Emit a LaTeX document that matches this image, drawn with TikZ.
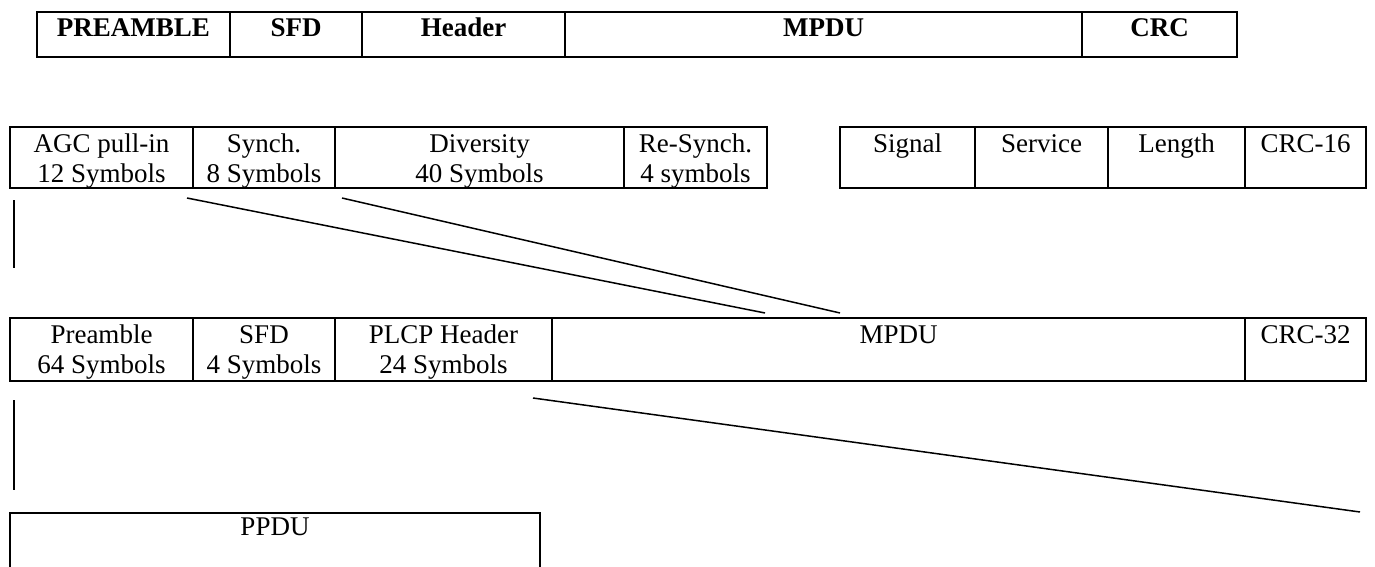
\documentclass[tikz,border=0pt]{standalone}
\usepackage{fontspec}
\setmainfont{Liberation Serif}
\newcommand\twoA[2]{\rule{0pt}{12.5pt}#1\\#2\rule[-3pt]{0pt}{3pt}}
\newcommand\oneA[1]{\rule{0pt}{12.5pt}#1\rule[-18pt]{0pt}{18pt}}
\newcommand\twoB[2]{\rule{0pt}{12.5pt}#1\\#2\rule[-4pt]{0pt}{4pt}}
\newcommand\oneB[1]{\rule{0pt}{12.5pt}#1\rule[-19pt]{0pt}{19pt}}
\newcommand\topcell[1]{\rule{0pt}{12.5pt}\textbf{#1}\rule[-10pt]{0pt}{10pt}}
\begin{document}
\begin{tikzpicture}[x=0.5pt,y=-0.5pt,
  cell/.style={draw, line width=1pt, inner sep=0pt, outer sep=0pt, anchor=north west, align=center,
    font=\fontsize{13.5}{15}\selectfont},
  conn/.style={draw, line width=0.75pt}]
\useasboundingbox (0,0) rectangle (1375,567);
% top row
\node[cell, minimum width=96.5pt] (tpre) at (37,12) {\topcell{PREAMBLE}};
\node[cell, minimum width=66pt] (tsfd) at (tpre.north east) {\topcell{SFD}};
\node[cell, minimum width=101.5pt] (thdr) at (tsfd.north east) {\topcell{Header}};
\node[cell, minimum width=258.5pt] (tmpdu) at (thdr.north east) {\topcell{MPDU}};
\node[cell, minimum width=77.5pt] (tcrc) at (tmpdu.north east) {\topcell{CRC}};
% second row, left
\node[cell, minimum width=91.5pt] (agc) at (10,127) {\twoA{AGC pull-in}{12 Symbols}};
\node[cell, minimum width=71pt] (syn) at (agc.north east) {\twoA{Synch.}{8 Symbols}};
\node[cell, minimum width=144.5pt] (div) at (syn.north east) {\twoA{Diversity}{40 Symbols}};
\node[cell, minimum width=71.5pt] (resyn) at (div.north east) {\twoA{Re-Synch.}{4 symbols}};
% second row, right
\node[cell, minimum width=67.5pt] (sig) at (840,127) {\oneA{Signal}};
\node[cell, minimum width=66.5pt] (serv) at (sig.north east) {\oneA{Service}};
\node[cell, minimum width=68.5pt] (len) at (serv.north east) {\oneA{Length}};
\node[cell, minimum width=60.5pt] (crc16) at (len.north east) {\oneA{CRC-16}};
% third row
\node[cell, minimum width=91.5pt] (pre) at (10,318) {\twoB{Preamble}{64 Symbols}};
\node[cell, minimum width=71pt] (sfd) at (pre.north east) {\twoB{SFD}{4 Symbols}};
\node[cell, minimum width=108.5pt] (plcp) at (sfd.north east) {\twoB{PLCP Header}{24 Symbols}};
\node[cell, minimum width=346.5pt] (mpdu) at (plcp.north east) {\oneB{MPDU}};
\node[cell, minimum width=60.5pt] (crc32) at (mpdu.north east) {\oneB{CRC-32}};
% bottom
\node[cell, minimum width=265pt] (ppdu) at (10,513) {\rule{0pt}{11pt}PPDU\rule[-20pt]{0pt}{20pt}};
% connectors
\coordinate (v1a) at (14,200); \coordinate (v1b) at (14,268);
\coordinate (d1a) at (187,198); \coordinate (d1b) at (765,313);
\coordinate (d2a) at (342,198); \coordinate (d2b) at (840,313);
\coordinate (v2a) at (14,400); \coordinate (v2b) at (14,490);
\coordinate (d3a) at (533,398); \coordinate (d3b) at (1360,512);
\draw[conn] (v1a) -- (v1b);
\draw[conn] (d1a) -- (d1b);
\draw[conn] (d2a) -- (d2b);
\draw[conn] (v2a) -- (v2b);
\draw[conn] (d3a) -- (d3b);
\end{tikzpicture}
\end{document}
